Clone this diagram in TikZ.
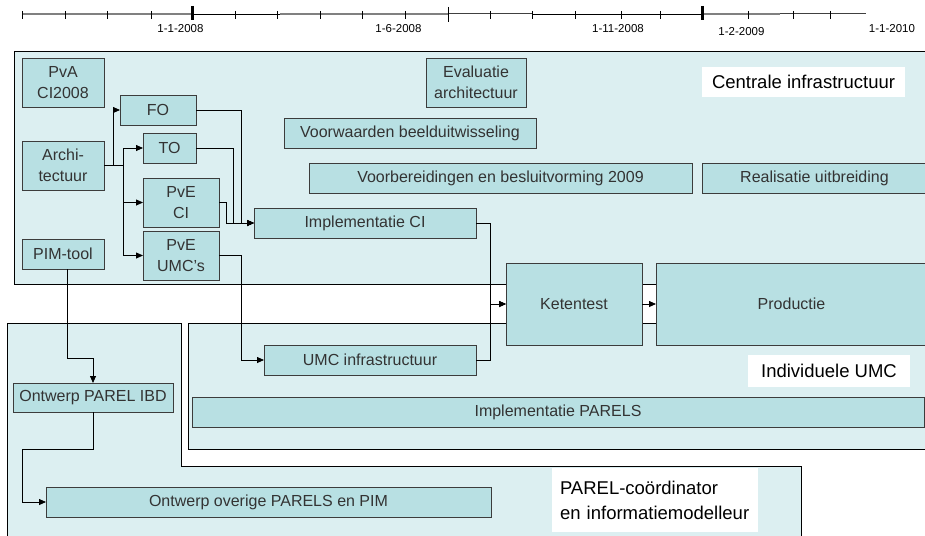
\documentclass[tikz,border=0pt]{standalone}
\usepackage{fontspec}
\setmainfont{Liberation Sans}
\usetikzlibrary{arrows.meta}
\definecolor{boxfill}{HTML}{B8E0E3}
\definecolor{regfill}{HTML}{DCEFF1}
\definecolor{boxline}{HTML}{3C3C3C}
\definecolor{boxtext}{HTML}{333333}
\definecolor{tlgray}{HTML}{808080}
\tikzset{
 box/.style={draw=boxline, fill=boxfill, line width=0.9pt, inner sep=0pt, outer sep=0pt, text=boxtext, font=\fontsize{16}{21}\selectfont, align=center},
 region/.style={draw=black, fill=regfill, line width=0.9pt},
 conn/.style={draw=black, line width=0.8pt, -{Triangle[length=7pt,width=6pt]}},
 lab/.style={fill=white, inner sep=0pt, outer sep=0pt, text=black, font=\fontsize{18.5}{25}\selectfont},
 datelab/.style={font=\fontsize{11.5}{13}\selectfont, text=black, inner sep=0pt},
 tick/.style={draw=black, line width=0.8pt},
 bigtick/.style={draw=black, line width=3pt},
}
\newcommand\bx[6]{\node[box,minimum width={(#4-#2)*1pt},minimum height={(#5-#3)*1pt}] (#1) at ({(#2+#4)/2},{(#3+#5)/2}) {#6};}
\begin{document}
\begin{tikzpicture}[x=1pt,y=-1pt]
\useasboundingbox (0,0) rectangle (925,535);
% timeline
\draw[tlgray,line width=1.3pt] (22,14) -- (192,14);
\draw[black,line width=0.9pt] (192,14) -- (280,14);
\draw[tlgray,line width=1.3pt] (280,14) -- (448,14);
\draw[black!75,line width=1pt] (448,14) -- (532,14);
\draw[black,line width=0.9pt] (532,14) -- (702,14);
\draw[tlgray,line width=1.3pt] (702,14) -- (780,14);
\draw[black!75,line width=1pt] (780,14) -- (866,14);
\foreach \t in {22,65,107,151,235,277,320,362,405,490,532,575,621,660,748,793,830}
  \draw[tick] (\t,11) -- (\t,19);
\draw[tick] (448,7) -- (448,22);
\draw[bigtick] (192,6) -- (192,20);
\draw[bigtick] (702,6) -- (702,20);
\node[datelab] (d1) at (180.5,29) {1-1-2008};
\node[datelab] (d2) at (398.5,29) {1-6-2008};
\node[datelab] (d3) at (618,29) {1-11-2008};
\node[datelab] (d4) at (741.5,31.5) {1-2-2009};
\node[datelab] (d5) at (892,29) {1-1-2010};
% regions
\path[region] (14,51) rectangle (932,284);
\path[region] (188,323) rectangle (932,449);
\path[region] (7,540) -- (7,323) -- (181,323) -- (181,466) -- (801,466) -- (801,540);
% labels
\node[lab,minimum width=203pt,minimum height=30pt] (lc) at (803.5,82) {Centrale infrastructuur};
\node[lab,minimum width=162pt,minimum height=32pt] (lu) at (829,371) {Individuele UMC};
\node[lab,minimum width=206pt,minimum height=64pt,align=left,text width=190pt] (lp) at (655,500) {PAREL-coördinator\\en informatiemodelleur};
% boxes
\bx{pva}{22}{58}{104}{107}{PvA\\CI2008}
\bx{fo}{120}{95}{196}{125}{FO}
\bx{to}{143}{133}{196}{163}{TO}
\bx{archi}{22}{141}{104}{190}{Archi-\\tectuur}
\bx{pveci}{143}{178}{219}{227}{PvE\\CI}
\bx{pveumc}{143}{231}{219}{280}{PvE\\UMC's}
\bx{pim}{22}{239}{104}{269}{PIM-tool}
\bx{eval}{426}{58}{526}{107}{Evaluatie\\architectuur}
\bx{voorw}{284}{118}{536}{148}{Voorwaarden beelduitwisseling}
\bx{voorb}{309}{163}{692}{193}{Voorbereidingen en besluitvorming 2009}
\bx{real}{702}{163}{927}{193}{Realisatie uitbreiding}
\bx{implci}{254}{208}{476}{238}{Implementatie CI}
\bx{umcinf}{264}{345}{476}{375}{UMC infrastructuur}
\bx{keten}{506}{263}{642}{345}{Ketentest}
\bx{prod}{656}{263}{927}{345}{Productie}
\bx{implp}{192}{397}{924}{427}{Implementatie PARELS}
\bx{ibd}{13}{383}{173}{412}{Ontwerp PAREL IBD}
\bx{overige}{46}{487}{491}{517}{Ontwerp overige PARELS en PIM}
% connectors
\draw[conn] (archi.east) -- ++(9,0) |- (fo.west);
\draw[conn] (archi.east) -- ++(19,0) |- (to.west);
\draw[conn] (archi.east) -- ++(19,0) |- (pveci.west);
\draw[conn] (archi.east) -- ++(19,0) |- (pveumc.west);
\draw[conn] (fo.east) -- ++(45.7,0) |- (implci.west);
\draw[conn] (to.east) -- ++(37.3,0) |- (implci.west);
\draw[conn] (pveci.east) -- ++(7.7,0) |- (implci.west);
\draw[conn] (pveumc.east) -- ++(22,0) |- (umcinf.west);
\draw[conn] (implci.east) -- ++(14,0) |- (keten.west);
\draw[conn] (umcinf.east) -- ++(14,0) |- (keten.west);
\draw[conn] (keten.east) -- (prod.west);
\draw[conn] ([xshift=4.7pt]pim.south) -- ++(0,89.3) -| (ibd.north);
\draw[conn] (ibd.south) -- ++(0,37.3) -- ++(-70.7,0) |- (overige.west);
\end{tikzpicture}
\end{document}
